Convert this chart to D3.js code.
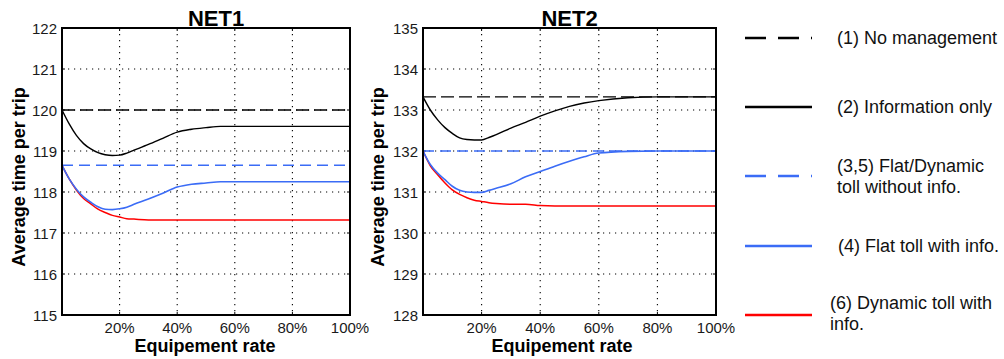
<!DOCTYPE html>
<html><head><meta charset="utf-8">
<script src="https://cdn.jsdelivr.net/npm/d3@7"></script>
<style>
html,body{margin:0;padding:0;background:#fff;}
svg{display:block;font-family:"Liberation Sans",Arial,sans-serif;}
</style></head>
<body><svg id="c" width="1004" height="359"></svg>
<script>
// ---- data ----
const xPct = [0,2.5,5,7.5,10,12.5,15,17.5,20,22.5,25,30,35,40,45,50,55,60,70,80,90,100];
const xTicks = [20,40,60,80,100];
const net1YTicks = [115,116,117,118,119,120,121,122];
const net2YTicks = [128,129,130,131,132,133,134,135];

const net1NoMgmt = 120.0;
const net1FlatDynNoInfo = 118.65;
const net1InfoOnly = [120.0,119.66,119.38,119.18,119.05,118.96,118.91,118.89,118.9,118.95,119.02,119.16,119.31,119.46,119.53,119.57,119.6,119.6,119.6,119.6,119.6,119.6];
const net1FlatInfo = [118.65,118.32,118.07,117.88,117.75,117.64,117.58,117.57,117.59,117.63,117.7,117.83,117.97,118.12,118.19,118.22,118.25,118.25,118.25,118.25,118.25,118.25];
const net1DynInfo  = [118.65,118.32,118.05,117.84,117.71,117.58,117.5,117.43,117.39,117.35,117.34,117.32,117.32,117.32,117.32,117.32,117.32,117.32,117.32,117.32,117.32,117.32];

const net2NoMgmt = 133.32;
const net2FlatDynNoInfo = 132.0;
const net2InfoOnly = [133.32,133.0,132.76,132.57,132.43,132.32,132.28,132.27,132.27,132.33,132.4,132.56,132.7,132.85,132.98,133.09,133.17,133.23,133.3,133.32,133.32,133.32];
const net2FlatInfo = [132.0,131.67,131.46,131.3,131.14,131.04,131.0,130.99,130.99,131.04,131.09,131.2,131.37,131.5,131.63,131.75,131.86,131.95,131.99,132.0,132.0,132.0];
const net2DynInfo  = [132.0,131.64,131.42,131.22,131.05,130.94,130.86,130.8,130.77,130.74,130.72,130.7,130.7,130.67,130.66,130.66,130.66,130.66,130.66,130.66,130.66,130.66];

const legendLabels = [["(1) No management"],["(2) Information only"],["(3,5) Flat/Dynamic","toll without info."],["(4) Flat toll with info."],["(6) Dynamic toll with","info."]];

// ---- drawing ----
const BLUE = "#3b6cf6", RED = "#ff0000", BLACK = "#000";
const svg = d3.select("#c");

const panels = [
  {title:"NET1", left:62, right:350, titleX:216, xLabX:205, yLabX:25, yDomain:[115,122], yTicks:net1YTicks,
   noM:net1NoMgmt, fd:net1FlatDynNoInfo, info:net1InfoOnly, flat:net1FlatInfo, dyn:net1DynInfo},
  {title:"NET2", left:423, right:716, titleX:569.5, xLabX:562, yLabX:384, yDomain:[128,135], yTicks:net2YTicks,
   noM:net2NoMgmt, fd:net2FlatDynNoInfo, info:net2InfoOnly, flat:net2FlatInfo, dyn:net2DynInfo}
];
const plotTop = 28, plotBottom = 315;

panels.forEach(p => {
  const x = d3.scaleLinear().domain([0,100]).range([p.left,p.right]);
  const y = d3.scaleLinear().domain(p.yDomain).range([plotBottom,plotTop]);
  const g = svg.append("g");

  // grid
  g.append("g").selectAll("line").data(p.yTicks.filter(v=>v>p.yDomain[0]&&v<p.yDomain[1])).join("line")
    .attr("x1",p.left).attr("x2",p.right).attr("y1",d=>y(d)).attr("y2",d=>y(d))
    .attr("stroke","#000").attr("stroke-width",1.1).attr("stroke-dasharray","1.2,4.8");
  g.append("g").selectAll("line").data(xTicks.filter(v=>v<100)).join("line")
    .attr("x1",d=>x(d)).attr("x2",d=>x(d)).attr("y1",plotTop).attr("y2",plotBottom)
    .attr("stroke","#000").attr("stroke-width",1.1).attr("stroke-dasharray","1.2,4.8");

  // inward ticks
  const tl = 3;
  p.yTicks.forEach(v=>{
    g.append("line").attr("x1",p.left).attr("x2",p.left+tl).attr("y1",y(v)).attr("y2",y(v)).attr("stroke","#000");
    g.append("line").attr("x1",p.right).attr("x2",p.right-tl).attr("y1",y(v)).attr("y2",y(v)).attr("stroke","#000");
  });
  xTicks.forEach(v=>{
    g.append("line").attr("x1",x(v)).attr("x2",x(v)).attr("y1",plotBottom).attr("y2",plotBottom-tl).attr("stroke","#000");
    g.append("line").attr("x1",x(v)).attr("x2",x(v)).attr("y1",plotTop).attr("y2",plotTop+tl).attr("stroke","#000");
  });

  // lines
  const line = d3.line().x((d,i)=>x(xPct[i])).y(d=>y(d)).curve(d3.curveMonotoneX);
  g.append("line").attr("x1",x(0)).attr("x2",x(100)).attr("y1",y(p.noM)).attr("y2",y(p.noM))
    .attr("stroke",BLACK).attr("stroke-width",1.4).attr("stroke-dasharray","13,5");
  g.append("line").attr("x1",x(0)).attr("x2",x(100)).attr("y1",y(p.fd)).attr("y2",y(p.fd))
    .attr("stroke",BLUE).attr("stroke-width",1.5).attr("stroke-dasharray","11,6");
  g.append("path").datum(p.info).attr("d",line).attr("fill","none").attr("stroke",BLACK).attr("stroke-width",1.4);
  g.append("path").datum(p.dyn).attr("d",line).attr("fill","none").attr("stroke",RED).attr("stroke-width",1.5);
  g.append("path").datum(p.flat).attr("d",line).attr("fill","none").attr("stroke",BLUE).attr("stroke-width",1.6);

  // frame
  g.append("rect").attr("x",p.left).attr("y",plotTop).attr("width",p.right-p.left).attr("height",plotBottom-plotTop)
    .attr("fill","none").attr("stroke","#000").attr("stroke-width",2);

  // tick labels
  g.append("g").selectAll("text").data(p.yTicks).join("text")
    .attr("x",p.left-5).attr("y",d=>y(d)+6).attr("text-anchor","end")
    .attr("font-size",15).attr("fill","#1a1a1a").text(d=>d);
  g.append("g").selectAll("text").data(xTicks).join("text")
    .attr("x",d=>x(d)).attr("y",333).attr("text-anchor","middle")
    .attr("font-size",15).attr("fill","#1a1a1a").text(d=>d+"%");

  // titles
  g.append("text").attr("x",p.titleX).attr("y",26).attr("text-anchor","middle")
    .attr("font-size",22).attr("font-weight","bold").text(p.title);
  g.append("text").attr("x",p.xLabX).attr("y",352).attr("text-anchor","middle")
    .attr("font-size",18).attr("font-weight","bold").text("Equipement rate");
  g.append("text").attr("transform",`translate(${p.yLabX},177) rotate(-90)`).attr("text-anchor","middle")
    .attr("font-size",18).attr("font-weight","bold").text("Average time per trip");
});

// legend
const leg = [
  {y:38, color:BLACK, dash:"21,12", tx:837, ty:[44]},
  {y:107, color:BLACK, dash:null, tx:837, ty:[113]},
  {y:176, color:BLUE, dash:"21,12", tx:837, ty:[172,193]},
  {y:246, color:BLUE, dash:null, tx:838, ty:[252]},
  {y:315, color:RED, dash:null, tx:830, ty:[309,330]}
];
leg.forEach((l,i)=>{
  svg.append("line").attr("x1",745).attr("x2",812).attr("y1",l.y).attr("y2",l.y)
    .attr("stroke",l.color).attr("stroke-width",2.6).attr("stroke-dasharray",l.dash);
  legendLabels[i].forEach((t,j)=>{
    svg.append("text").attr("x",l.tx).attr("y",l.ty[j]).attr("font-size",18).attr("fill","#111").text(t);
  });
});
</script></body></html>
